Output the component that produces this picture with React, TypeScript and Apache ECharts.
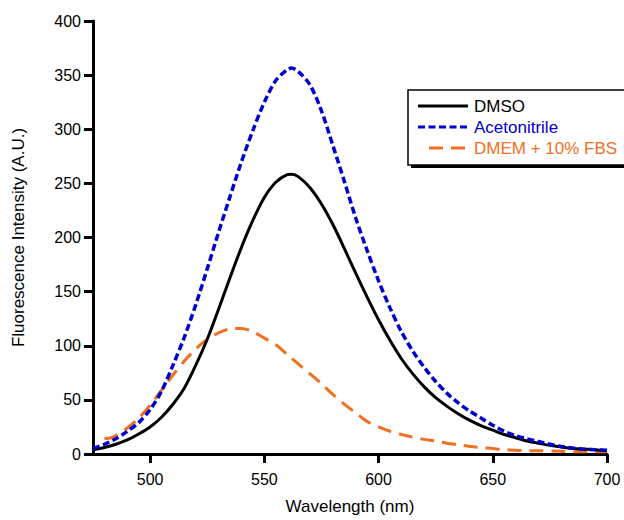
import React, { useEffect, useRef } from "react";
import * as echarts from "echarts";

const seriesNames = ["DMSO", "Acetonitrile", "DMEM + 10% FBS"];
const seriesColors = ["#000000", "#0000cc", "#f07022"];

const wavelengthDMSO = [475, 480, 485, 490, 495, 500, 505, 510, 515, 520, 525, 530, 535, 540, 545, 550, 555, 560, 562, 565, 570, 575, 580, 585, 590, 595, 600, 605, 610, 615, 620, 625, 630, 635, 640, 645, 650, 655, 660, 665, 670, 675, 680, 685, 690, 695, 700];
const valuesDMSO = [4, 6, 9, 13, 18.5, 25, 34, 46, 61, 82, 106, 134, 163, 191, 216, 237, 251, 258, 258.5, 256, 246, 231, 212, 190, 167, 145, 124, 105, 88, 74, 62, 52, 44, 37, 31, 26, 22, 18, 15, 12, 10, 8, 6.5, 5, 4.5, 4, 3];

const wavelengthACN = [475, 480, 485, 490, 495, 500, 505, 510, 515, 520, 525, 530, 535, 540, 545, 550, 555, 560, 562, 565, 570, 575, 580, 585, 590, 595, 600, 605, 610, 615, 620, 625, 630, 635, 640, 645, 650, 655, 660, 665, 670, 675, 680, 685, 690, 695, 700];
const valuesACN = [5, 9, 14, 21, 29, 41, 58, 82, 108, 138, 171, 205, 238, 270, 299, 325, 345, 355, 356.5, 353, 341, 317, 285, 252, 218, 188, 160, 135, 113, 95, 80, 67, 56, 47, 39.5, 33, 26.5, 21, 17, 14, 11.5, 9, 7, 5.5, 4.5, 4, 3.5];

const wavelengthDMEM = [480, 483, 485, 490, 495, 500, 505, 510, 515, 520, 525, 530, 535, 540, 545, 550, 555, 560, 565, 570, 575, 580, 585, 590, 595, 600, 605, 610, 615, 620, 625, 630, 635, 640, 645, 650, 655, 660, 665, 670, 680, 690, 700];
const valuesDMEM = [14, 15, 17, 24, 33, 45, 59, 73, 86, 97, 106, 112, 115.5, 116, 113, 107, 101, 92, 83, 74, 65, 55, 46, 38, 30, 25, 21, 18, 15.5, 13.5, 12, 10, 8.5, 7, 6, 5, 4, 3.5, 3, 3, 2.5, 2, 2];

const xTicks = [500, 550, 600, 650, 700];
const yTicks = [0, 50, 100, 150, 200, 250, 300, 350, 400];

const FONT = "'Liberation Sans', Arial, sans-serif";

function zip(xs: number[], ys: number[]) {
  return xs.map((x, i) => [x, ys[i]]);
}

export default function App() {
  const ref = useRef<HTMLDivElement>(null);
  useEffect(() => {
    if (!ref.current) return;
    const chart = echarts.init(ref.current, undefined, { renderer: "svg" });
    const lx = 408, ly = 90, lw = 232, lh = 75;
    const rowY = [106, 127, 148];
    const dashes: any[] = [null, [7, 3.5], [14, 8]];
    const legendItems: any[] = [];
    seriesNames.forEach((name, i) => {
      legendItems.push({
        type: "line",
        shape: { x1: i === 2 ? 429 : 418, y1: rowY[i], x2: 468, y2: rowY[i] },
        style: { stroke: seriesColors[i], lineWidth: 3, lineDash: dashes[i] || undefined },
        z: 101,
      });
      legendItems.push({
        type: "text",
        x: 474,
        y: rowY[i],
        style: { text: name, fill: seriesColors[i], font: `17px ${FONT}`, textVerticalAlign: "middle", verticalAlign: "middle" },
        z: 101,
      });
    });
    const common = { showSymbol: false, smooth: 0.3, type: "line" };
    chart.setOption({
      animation: false,
      backgroundColor: "#ffffff",
      grid: { left: 93, right: 17, top: 21, bottom: 64, containLabel: false },
      xAxis: {
        type: "value",
        min: 475,
        max: 700,
        name: "Wavelength (nm)",
        nameLocation: "middle",
        nameGap: 44,
        nameTextStyle: { fontFamily: FONT, fontSize: 17, color: "#000" },
        splitLine: { show: false },
        axisLine: { show: true, lineStyle: { color: "#000", width: 3 } },
        axisTick: { show: true, customValues: xTicks, length: 9, lineStyle: { color: "#000", width: 3 } },
        axisLabel: { customValues: xTicks, margin: 17, fontFamily: FONT, fontSize: 16, color: "#000" },
      },
      yAxis: {
        type: "value",
        min: 0,
        max: 400,
        interval: 50,
        name: "Fluorescence Intensity (A.U.)",
        nameLocation: "middle",
        nameGap: 66,
        nameTextStyle: { fontFamily: FONT, fontSize: 17, color: "#000" },
        splitLine: { show: false },
        axisLine: { show: true, lineStyle: { color: "#000", width: 3 } },
        axisTick: { show: true, customValues: yTicks, length: 9, lineStyle: { color: "#000", width: 3 } },
        axisLabel: { customValues: yTicks, margin: 12, fontFamily: FONT, fontSize: 16, color: "#000" },
      },
      series: [
        {
          ...common, name: seriesNames[0], data: zip(wavelengthDMSO, valuesDMSO),
          lineStyle: { color: seriesColors[0], width: 3 }, z: 3,
        },
        {
          ...common, name: seriesNames[1], data: zip(wavelengthACN, valuesACN),
          lineStyle: { color: seriesColors[1], width: 3.5, type: [7, 3.5] }, z: 4,
        },
        {
          ...common, name: seriesNames[2], data: zip(wavelengthDMEM, valuesDMEM),
          lineStyle: { color: seriesColors[2], width: 3, type: [14, 8] }, z: 2,
        },
      ],
      graphic: [
        { type: "rect", shape: { x: lx + 3, y: ly + 3, width: lw, height: lh }, style: { fill: "#000" }, z: 100 },
        { type: "rect", shape: { x: lx, y: ly, width: lw, height: lh }, style: { fill: "#fff", stroke: "#000", lineWidth: 1.5 }, z: 100 },
        ...legendItems,
      ],
    });
    return () => chart.dispose();
  }, []);
  return <div ref={ref} style={{ position: "fixed", left: 0, top: 0, width: 624, height: 520 }} />;
}
